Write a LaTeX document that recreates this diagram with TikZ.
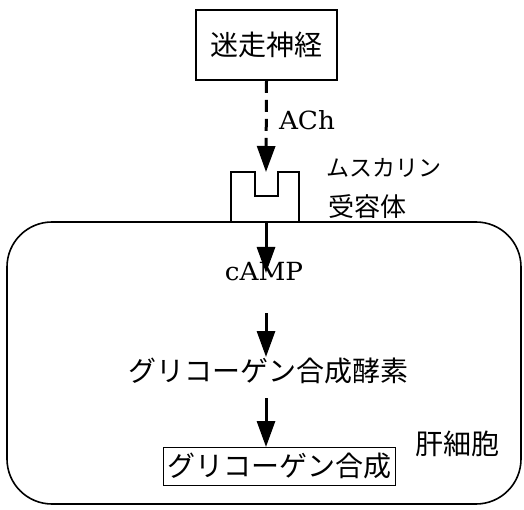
\documentclass[tikz,border=0pt]{standalone}
\usepackage{fontspec}
\usepackage{graphicx}
\newfontfamily\jp{Noto Sans CJK JP}
\newfontfamily\lat{DejaVu Serif}
\usetikzlibrary{arrows.meta}
\newcommand{\bigtxt}[1]{\scalebox{1.05}[1]{\lat\fontsize{25}{27}\selectfont #1}}
\begin{document}
\begin{tikzpicture}[x=1pt,y=-1pt,
  jpbig/.style={font=\jp\fontsize{28}{30}\selectfont, inner sep=0pt},
  latin/.style={inner sep=0pt},
  flow/.style={line width=3pt, -{Triangle[length=26pt,width=18pt]}},
  dflow/.style={flow, dash pattern=on 12pt off 7pt}]
\useasboundingbox (0,0) rectangle (524,510);
% vagus nerve box
\node[jpbig, draw, line width=1.6pt, minimum width=141pt, minimum height=70pt] (vagus) at (266.5,45) {迷走神経};
\node[latin] (ach) at (307,120) {\bigtxt{ACh}};
\coordinate (rtip) at (266,172);
\draw[dflow] (vagus.south) -- (rtip);
% receptor
\draw[line width=1.4pt] (231,222) -- (231,172) -- (255,172) -- (255,196) -- (278,196) -- (278,172) -- (299,172) -- (299,222);
\node[font=\jp\fontsize{23}{25}\selectfont, inner sep=0pt] (musc) at (384,168) {ムスカリン};
\node[font=\jp\fontsize{26}{28}\selectfont, inner sep=0pt] (juyo) at (367,207) {受容体};
% cell membrane
\draw[line width=1.6pt, rounded corners=45pt] (7,222) rectangle (521,504);
\coordinate (mem) at (266,222);
\node[latin] (camp) at (264,272) {\bigtxt{cAMP}};
\coordinate (campTop) at (266,273);
\draw[flow] (mem) -- (campTop);
\coordinate (a2s) at (266,313);
\coordinate (a2e) at (266,357);
\draw[flow] (a2s) -- (a2e);
\node[jpbig] (enz) at (268,371) {グリコーゲン合成酵素};
\node[jpbig, draw, line width=0.8pt, minimum width=232pt, minimum height=38pt] (syn) at (279,466) {グリコーゲン合成};
\coordinate (a3s) at (266,398);
\coordinate (a3e) at (266,447);
\draw[flow] (a3s) -- (a3e);
\node[jpbig] (liver) at (457,444) {肝細胞};
\end{tikzpicture}
\end{document}
